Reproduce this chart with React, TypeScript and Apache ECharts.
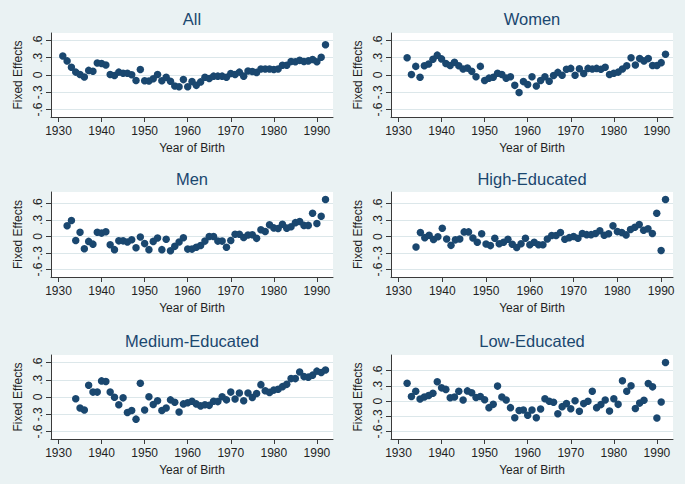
import React, { useEffect, useRef } from "react";
import * as echarts from "echarts";

// ---------- data ----------
const panelTitles = ["All", "Women", "Men", "High-Educated", "Medium-Educated", "Low-Educated"];

const xTickValues = [1930, 1940, 1950, 1960, 1970, 1980, 1990];
const yTickValues = [-0.6, -0.3, 0, 0.3, 0.6];

const allStartYear = 1931;
const allValues = [
  0.33, 0.245, 0.135, 0.05, 0.01, -0.035, 0.08, 0.065, 0.21, 0.2,
  0.175, 0.01, -0.01, 0.05, 0.03, 0.03, 0.005, -0.095, 0.095, -0.1,
  -0.105, -0.065, 0.01, -0.1, -0.04, -0.11, -0.19, -0.205, -0.08, -0.205,
  -0.115, -0.18, -0.12, -0.04, -0.06, -0.02, -0.02, -0.02, -0.04, 0.025,
  0.01, 0.05, -0.02, 0.07, 0.06, 0.045, 0.105, 0.105, 0.105, 0.095,
  0.105, 0.17, 0.17, 0.235, 0.23, 0.255, 0.235, 0.245, 0.27, 0.23,
  0.31, 0.525,
];

const womenStartYear = 1932;
const womenValues = [
  0.3, 0.01, 0.15, -0.04, 0.16, 0.19, 0.275, 0.345, 0.28, 0.2,
  0.165, 0.22, 0.16, 0.105, 0.12, 0.065, -0.03, 0.15, -0.095, -0.055,
  -0.04, 0.03, 0.01, -0.055, -0.03, -0.18, -0.305, -0.115, -0.165, -0.03,
  -0.19, -0.095, -0.03, -0.11, -0.01, 0.045, -0.005, 0.1, 0.115, -0.005,
  0.11, 0.025, 0.115, 0.105, 0.115, 0.1, 0.135, 0.01, 0.03, 0.05,
  0.105, 0.16, 0.3, 0.175, 0.285, 0.245, 0.285, 0.165, 0.165, 0.215,
  0.36,
];

const menStartYear = 1932;
const menValues = [
  0.195, 0.29, -0.075, 0.075, -0.225, -0.09, -0.14, 0.075, 0.06, 0.085,
  -0.15, -0.24, -0.08, -0.08, -0.1, -0.06, -0.205, -0.01, -0.13, -0.24,
  -0.09, -0.03, -0.24, -0.05, -0.26, -0.18, -0.1, -0.025, -0.23, -0.23,
  -0.195, -0.165, -0.085, 0.0, 0.0, -0.085, -0.085, -0.195, -0.075, 0.04,
  0.04, -0.02, 0.025, 0.03, -0.035, 0.12, 0.09, 0.21, 0.155, 0.145,
  0.22, 0.15, 0.175, 0.25, 0.27, 0.2, 0.2, 0.42, 0.235, 0.365,
  0.67,
];

const highStartYear = 1934;
const highValues = [
  -0.19, 0.075, -0.02, 0.025, -0.055, -0.005, 0.15, -0.045, -0.16, -0.06,
  -0.045, 0.085, 0.085, -0.025, -0.105, 0.05, -0.135, -0.165, -0.03, -0.13,
  -0.105, -0.05, -0.14, -0.2, -0.13, -0.03, -0.15, -0.105, -0.15, -0.15,
  -0.045, 0.02, 0.02, 0.075, -0.05, -0.02, 0.0, -0.03, 0.055, 0.035,
  0.035, 0.055, 0.105, 0.025, 0.05, 0.195, 0.09, 0.075, 0.03, 0.13,
  0.17, 0.22, 0.115, 0.14, 0.055, 0.425, -0.255, 0.675,
];

const mediumStartYear = 1934;
const mediumValues = [
  -0.03, -0.19, -0.225, 0.205, 0.085, 0.085, 0.28, 0.27, 0.085, -0.005,
  -0.135, -0.015, -0.27, -0.235, -0.385, 0.24, -0.225, 0.005, -0.13, -0.065,
  -0.235, -0.19, -0.05, -0.09, -0.26, -0.12, -0.1, -0.075, -0.12, -0.155,
  -0.135, -0.145, -0.075, -0.08, 0.005, -0.05, 0.085, -0.035, 0.07, -0.065,
  0.07, -0.01, 0.06, 0.215, 0.11, 0.08, 0.12, 0.135, 0.18, 0.22,
  0.32, 0.32, 0.435, 0.355, 0.345, 0.38, 0.45, 0.425, 0.47,
];

const lowStartYear = 1932;
const lowValues = [
  0.35, 0.09, 0.195, 0.04, 0.08, 0.11, 0.155, 0.38, 0.26, 0.23,
  0.065, 0.08, 0.195, 0.02, 0.2, 0.165, 0.07, 0.09, 0.025, -0.13,
  -0.065, 0.295, 0.08, 0.02, -0.13, -0.33, -0.185, -0.175, -0.28, -0.175,
  -0.33, -0.155, 0.045, -0.005, -0.025, -0.25, -0.11, -0.05, -0.15, 0.005,
  -0.2, -0.05, -0.005, 0.195, -0.13, -0.07, 0.02, -0.195, 0.045, -0.065,
  0.4, 0.195, 0.3, -0.145, -0.04, 0.015, 0.345, 0.28, -0.335, -0.02,
  0.76,
];

const panelStartYears = [allStartYear, womenStartYear, menStartYear, highStartYear, mediumStartYear, lowStartYear];
const panelValues = [allValues, womenValues, menValues, highValues, mediumValues, lowValues];

// ---------- layout / style ----------
const FONT = "'Liberation Sans', Arial, sans-serif";
const BG = "#EAF2F3";
const NAVY = "#1A476F";
const AXIS = "#3a3a3a";
const TEXT = "#1f1f1f";
const colLeft = [51, 391];
const plotWidth = 282;
const rowTop = [33, 192, 355];
const rowHeight = [84, 85, 84];
const titleY = [19, 179, 341];
const MARGIN = 7.5;

function padRange(lo: number, hi: number, px: number): [number, number] {
  const k = (hi - lo) / (px - 2 * MARGIN);
  return [lo - MARGIN * k, hi + MARGIN * k];
}

function fmtY(v: number): string {
  if (Math.abs(v) < 1e-9) return "0";
  const s = String(Math.abs(Math.round(v * 10) / 10)).replace(/^0/, "");
  return (v < 0 ? "-" : "") + s;
}

export default function App() {
  const ref = useRef<HTMLDivElement>(null);
  useEffect(() => {
    if (!ref.current) return;
    const chart = echarts.init(ref.current, undefined, { renderer: "svg" });
    const grids: any[] = [];
    const xAxes: any[] = [];
    const yAxes: any[] = [];
    const series: any[] = [];
    const graphics: any[] = [];
    panelTitles.forEach((title, i) => {
      const col = i % 2;
      const row = Math.floor(i / 2);
      const vals = panelValues[i];
      const start = panelStartYears[i];
      const data = vals.map((v, j) => [start + j, v]);
      const xLo = Math.min(xTickValues[0], start);
      const xHi = Math.max(xTickValues[xTickValues.length - 1], start + vals.length - 1);
      const yLo = Math.min(yTickValues[0], Math.min(...vals));
      const yHi = Math.max(yTickValues[yTickValues.length - 1], Math.max(...vals));
      const [xMin, xMax] = padRange(xLo, xHi, plotWidth);
      const [yMin, yMax] = padRange(yLo, yHi, rowHeight[row]);
      grids.push({
        left: colLeft[col],
        top: rowTop[row],
        width: plotWidth,
        height: rowHeight[row],
        show: true,
        backgroundColor: "#ffffff",
        borderWidth: 0,
        containLabel: false,
      });
      xAxes.push({
        gridIndex: i,
        type: "value",
        min: xMin,
        max: xMax,
        axisLine: { show: true, onZero: false, lineStyle: { color: AXIS, width: 1 } },
        axisTick: { show: true, length: 5, customValues: xTickValues, lineStyle: { color: AXIS, width: 1 } },
        axisLabel: {
          customValues: xTickValues,
          margin: 8,
          fontSize: 12,
          color: TEXT,
          fontFamily: FONT,
          formatter: (v: number) => String(Math.round(v)),
        },
        splitLine: { show: false },
        name: "Year of Birth",
        nameLocation: "middle",
        nameGap: 25,
        nameTextStyle: { fontSize: 12, color: TEXT, fontFamily: FONT },
      });
      yAxes.push({
        gridIndex: i,
        type: "value",
        min: yMin,
        max: yMax,
        axisLine: { show: true, onZero: false, lineStyle: { color: AXIS, width: 1 } },
        axisTick: { show: true, length: 5, customValues: yTickValues, lineStyle: { color: AXIS, width: 1 } },
        axisLabel: {
          customValues: yTickValues,
          rotate: 90,
          margin: 7,
          fontSize: 12,
          color: TEXT,
          fontFamily: FONT,
          formatter: (v: number) => fmtY(v),
        },
        splitLine: { show: true, lineStyle: { color: "#DCE7EA", width: 1 } },
        name: "Fixed Effects",
        nameLocation: "middle",
        nameGap: 27,
        nameTextStyle: { fontSize: 12, color: TEXT, fontFamily: FONT },
      });
      series.push({
        type: "scatter",
        xAxisIndex: i,
        yAxisIndex: i,
        data,
        symbol: "circle",
        symbolSize: 7.5,
        itemStyle: { color: NAVY, opacity: 1 },
        silent: true,
      });
      graphics.push({
        type: "text",
        x: colLeft[col] + plotWidth / 2,
        y: titleY[row],
        style: {
          text: title,
          fill: NAVY,
          font: `16.5px ${FONT}`,
          textAlign: "center",
          textVerticalAlign: "middle",
        },
      });
    });
    chart.setOption({
      animation: false,
      backgroundColor: BG,
      grid: grids,
      xAxis: xAxes,
      yAxis: yAxes,
      series,
      graphic: graphics,
    });
    return () => chart.dispose();
  }, []);
  return (
    <div
      ref={ref}
      style={{ position: "absolute", left: 0, top: 0, width: 685, height: 484 }}
    />
  );
}
